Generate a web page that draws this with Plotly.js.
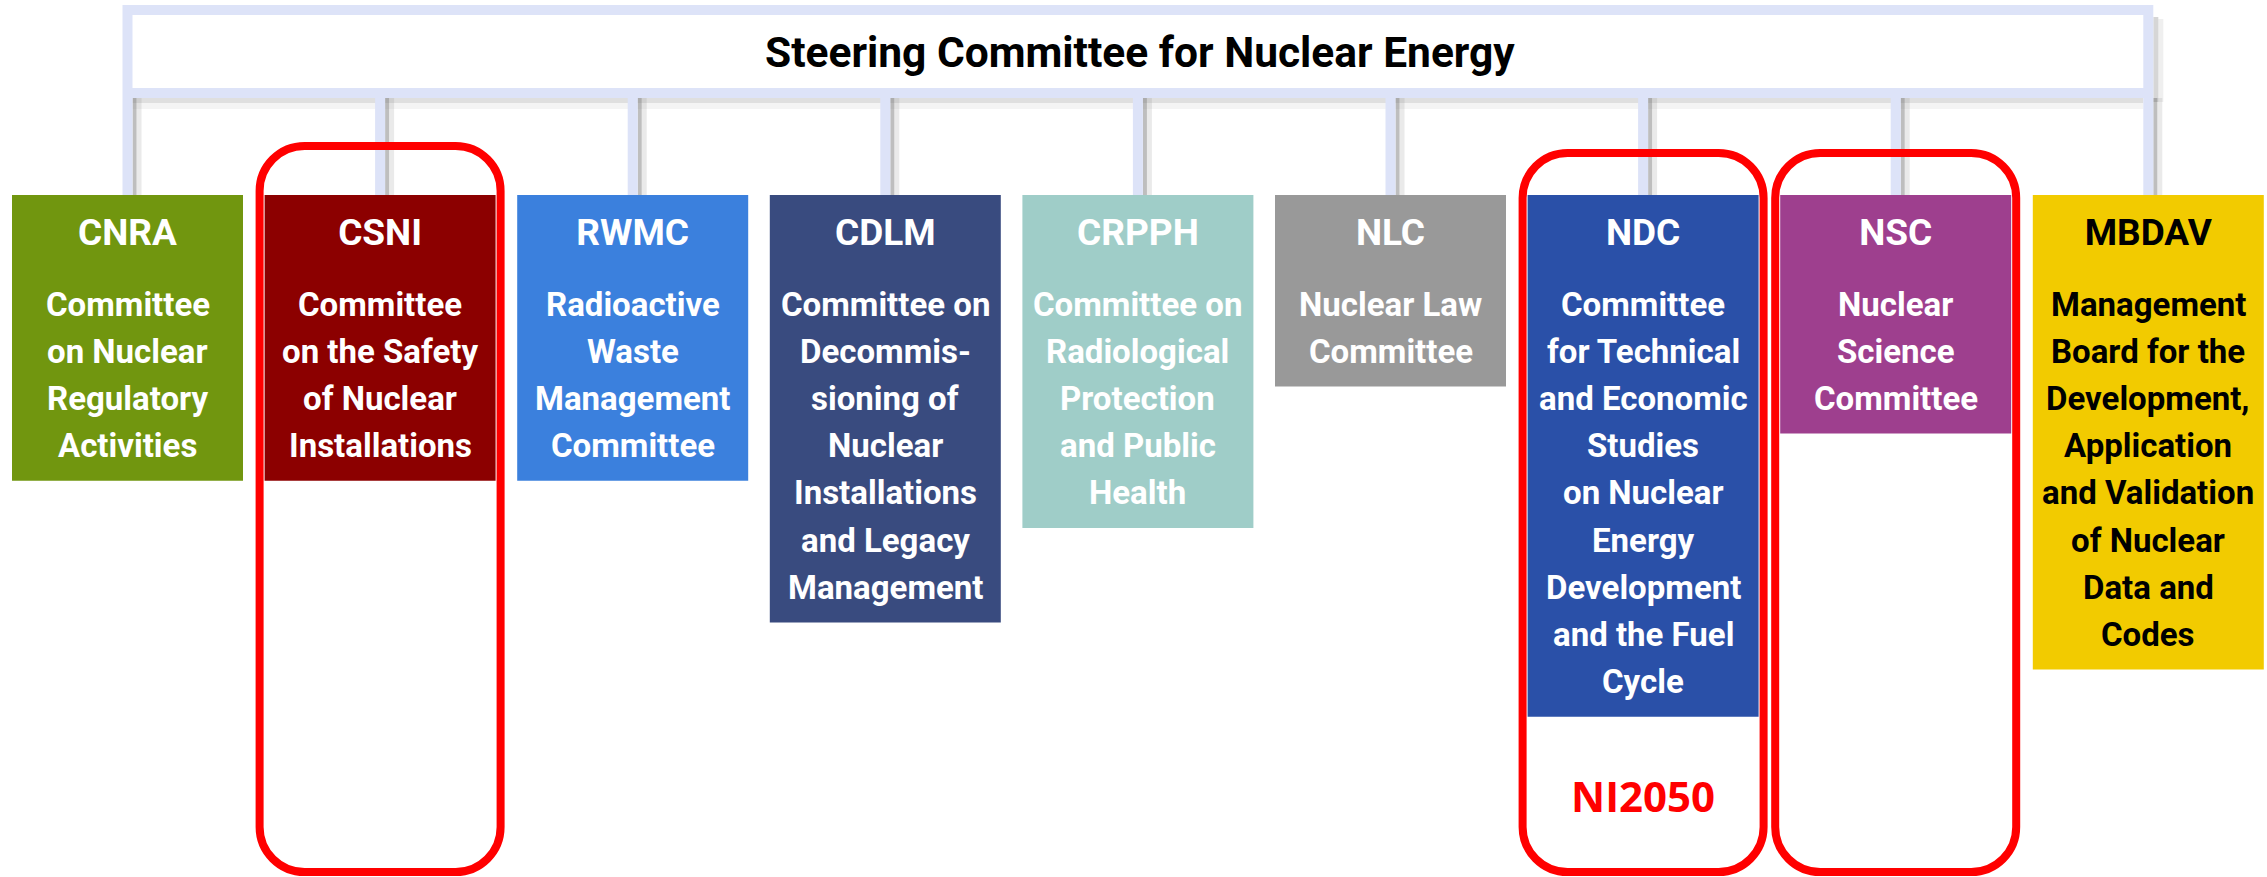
<!DOCTYPE html>
<html>
<head>
<meta charset="utf-8">
<script src="https://cdn.plot.ly/plotly-3.0.1.min.js"></script>
<style>html,body{margin:0;padding:0;background:#fff;}#chart{width:2267px;height:877px;}</style>
</head>
<body>
<div id="chart"></div>
<script>
// ---- chart content ----
const chartTitle = 'Steering Committee for Nuclear Energy';
const acronyms = ['CNRA', 'CSNI', 'RWMC', 'CDLM', 'CRPPH', 'NLC', 'NDC', 'NSC', 'MBDAV'];
const descriptions = [
  ['Committee', 'on Nuclear', 'Regulatory', 'Activities'],
  ['Committee', 'on the Safety', 'of Nuclear', 'Installations'],
  ['Radioactive', 'Waste', 'Management', 'Committee'],
  ['Committee on', 'Decommis-', 'sioning of', 'Nuclear', 'Installations', 'and Legacy', 'Management'],
  ['Committee on', 'Radiological', 'Protection', 'and Public', 'Health'],
  ['Nuclear Law', 'Committee'],
  ['Committee', 'for Technical', 'and Economic', 'Studies', 'on Nuclear', 'Energy', 'Development', 'and the Fuel', 'Cycle'],
  ['Nuclear', 'Science', 'Committee'],
  ['Management', 'Board for the', 'Development,', 'Application', 'and Validation', 'of Nuclear', 'Data and', 'Codes']
];
const highlighted = ['CSNI', 'NDC', 'NSC'];
const highlightNotes = {NDC: 'NI2050'};

// ---- styles ----
const boxColors = ['#71960f', '#8c0000', '#3b80dd', '#394b7f', '#9fcdc8', '#999999', '#2a50a8', '#9e3f8e', '#f2cb00'];
const textColors = ['#ffffff', '#ffffff', '#ffffff', '#ffffff', '#ffffff', '#ffffff', '#ffffff', '#ffffff', '#000000'];
const frameColor = '#dde3f8';
const highlightColor = '#ff0000';
const narrow = 'Roboto, sans-serif';

// ---- geometry ----
const W = 2267, H = 877;
const boxLeft0 = 12, boxPitch = 252.6, boxWidth = 231;
const boxTop = 195, acronymY = 236, firstLineY = 304, lineStep = 47.2, boxBaseBottom = 292;
const frame = {top: 5, bottom: 98, inset: 10};
const highlightTops = {CSNI: 146, NDC: 153, NSC: 153};
const highlightBottom = 872, highlightPad = 5, highlightRadius = 45;

const lefts = acronyms.map((_, i) => boxLeft0 + i * boxPitch);
const centers = lefts.map(l => l + boxWidth / 2);

const shapes = [];
const rect = (x0, y0, x1, y1, color, layer) => ({
  type: 'rect', xref: 'x', yref: 'y', x0, y0, x1, y1,
  fillcolor: color, line: {width: 0}, layer: layer || 'below'
});

// frame of the steering committee
const fL = centers[0] - 5, fR = centers[centers.length - 1] + 5;
shapes.push(rect(fR, frame.top + 12, fR + 5, frame.bottom + 4, 'rgba(120,120,120,0.30)'));
shapes.push(rect(fR + 5, frame.top + 14, fR + 10, frame.bottom + 4, 'rgba(120,120,120,0.12)'));
shapes.push(rect(fL, frame.top, fR, frame.bottom, frameColor));
shapes.push(rect(fL + frame.inset, frame.top + frame.inset, fR - frame.inset, frame.bottom - frame.inset, '#ffffff'));
shapes.push(rect(fL + frame.inset, frame.bottom, fR - frame.inset, frame.bottom + 5, 'rgba(110,110,110,0.22)'));
shapes.push(rect(fL + frame.inset, frame.bottom + 5, fR - frame.inset, frame.bottom + 11, 'rgba(110,110,110,0.08)'));

// connectors
centers.forEach(c => {
  shapes.push(rect(c + 5, frame.bottom, c + 9, boxTop, 'rgba(110,110,110,0.45)'));
  shapes.push(rect(c + 9, frame.bottom, c + 14, boxTop, 'rgba(140,140,140,0.18)'));
  shapes.push(rect(c - 5, frame.bottom, c + 5, boxTop, frameColor));
});

// committee boxes
acronyms.forEach((a, i) => {
  const bottom = boxBaseBottom + lineStep * descriptions[i].length;
  shapes.push(rect(lefts[i], boxTop, lefts[i] + boxWidth, bottom, boxColors[i]));
});

// highlight outlines
function roundedPath(x0, y0, x1, y1, r) {
  const k = 0.5523 * r;
  return `M ${x0 + r} ${y0} L ${x1 - r} ${y0} C ${x1 - r + k} ${y0} ${x1} ${y0 + r - k} ${x1} ${y0 + r} ` +
         `L ${x1} ${y1 - r} C ${x1} ${y1 - r + k} ${x1 - r + k} ${y1} ${x1 - r} ${y1} ` +
         `L ${x0 + r} ${y1} C ${x0 + r - k} ${y1} ${x0} ${y1 - r + k} ${x0} ${y1 - r} ` +
         `L ${x0} ${y0 + r} C ${x0} ${y0 + r - k} ${x0 + r - k} ${y0} ${x0 + r} ${y0} Z`;
}
highlighted.forEach(a => {
  const i = acronyms.indexOf(a);
  shapes.push({
    type: 'path', xref: 'x', yref: 'y', layer: 'above',
    path: roundedPath(lefts[i] - highlightPad, highlightTops[a], lefts[i] + boxWidth + highlightPad, highlightBottom, highlightRadius),
    line: {color: highlightColor, width: 8}, fillcolor: 'rgba(0,0,0,0)'
  });
});

// text
const annotations = [];
annotations.push({
  xref: 'x', yref: 'y', x: (fL + fR) / 2 + 2, y: (frame.top + frame.bottom) / 2 + 1,
  text: '<b>' + chartTitle + '</b>', showarrow: false, xanchor: 'center', yanchor: 'middle',
  font: {family: narrow, size: 42.5, color: '#000000'}
});
descriptions.forEach((lines, i) => {
  lines.forEach((ln, j) => {
    annotations.push({
      xref: 'x', yref: 'y', x: centers[i], y: firstLineY + j * lineStep,
      text: '<b>' + ln + '</b>', showarrow: false, xanchor: 'center', yanchor: 'middle',
      font: {family: narrow, size: 33, color: textColors[i]}
    });
  });
});
Object.keys(highlightNotes).forEach(a => {
  const i = acronyms.indexOf(a);
  const bottom = boxBaseBottom + lineStep * descriptions[i].length;
  annotations.push({
    xref: 'x', yref: 'y', x: centers[i], y: (bottom + highlightBottom) / 2 + 1,
    text: '<b>' + highlightNotes[a] + '</b>', showarrow: false, xanchor: 'center', yanchor: 'middle',
    font: {family: '"Open Sans", "Liberation Sans", sans-serif', size: 42, color: highlightColor}
  });
});

const traces = [{
  type: 'scatter', mode: 'text', x: centers, y: acronyms.map(() => acronymY),
  text: acronyms.map(a => '<b>' + a + '</b>'), textposition: 'middle center',
  textfont: {family: narrow, size: 37, color: textColors},
  hoverinfo: 'skip', showlegend: false, cliponaxis: false
}];

const layout = {
  width: W, height: H, margin: {l: 0, r: 0, t: 0, b: 0, pad: 0},
  paper_bgcolor: '#ffffff', plot_bgcolor: '#ffffff', showlegend: false,
  xaxis: {range: [0, W], visible: false, fixedrange: true},
  yaxis: {range: [H, 0], visible: false, fixedrange: true},
  shapes, annotations
};
Plotly.newPlot('chart', traces, layout, {staticPlot: true, displayModeBar: false});
</script>
</body>
</html>
